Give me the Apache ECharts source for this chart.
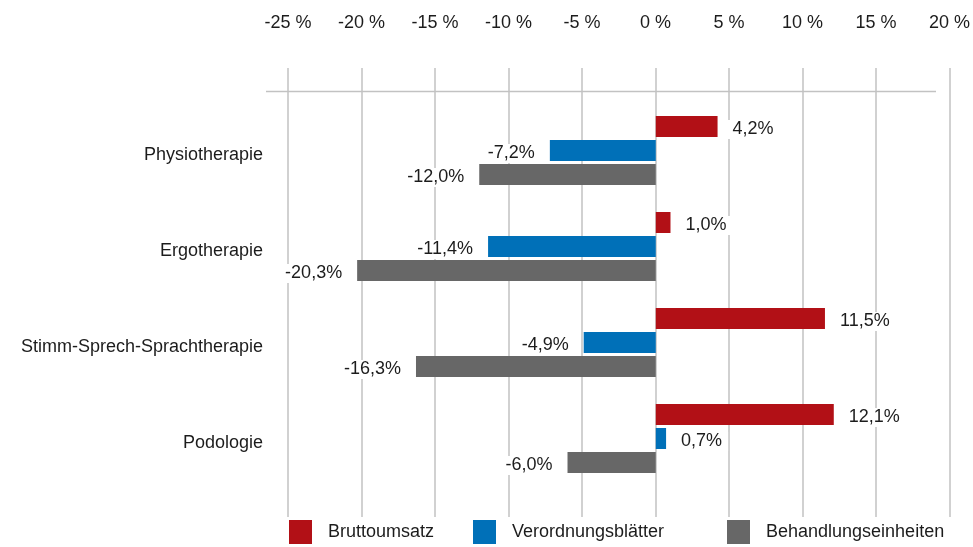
<!DOCTYPE html>
<html>
<head>
<meta charset="utf-8">
<script src="https://cdn.jsdelivr.net/npm/echarts@6/dist/echarts.min.js"></script>
<style>
html,body{margin:0;padding:0;background:#fff;}
#chart{width:973px;height:547px;}
</style>
</head>
<body>
<div id="chart"></div>
<script>
const categories = ['Physiotherapie', 'Ergotherapie', 'Stimm-Sprech-Sprachtherapie', 'Podologie'];
const seriesNames = ['Bruttoumsatz', 'Verordnungsblätter', 'Behandlungseinheiten'];
const bruttoumsatz = [4.2, 1.0, 11.5, 12.1];
const verordnungsblaetter = [-7.2, -11.4, -4.9, 0.7];
const behandlungseinheiten = [-12.0, -20.3, -16.3, -6.0];
const axisMin = -25;
const axisMax = 20;
const axisInterval = 5;

const colors = ['#B21016', '#0070B8', '#676767'];
const FONT = "'Liberation Sans', Arial, sans-serif";
const TEXT = '#1c1c1c';
const GRIDC = '#c2c2c2';

function fmt(v) { return v.toFixed(1).replace('.', ',') + '%'; }

function makeData(arr) {
  return arr.map(v => ({
    value: v,
    label: { position: v < 0 ? 'left' : 'right' }
  }));
}

const allValues = [bruttoumsatz, verordnungsblaetter, behandlungseinheiten];

const chart = echarts.init(document.getElementById('chart'), null, { renderer: 'canvas' });
const legendLefts = [289, 473, 727];

chart.setOption({
  animation: false,
  backgroundColor: '#fff',
  textStyle: { fontFamily: FONT },
  grid: [
    { left: 288, right: 23, top: 68, bottom: 30 },
    { left: 288, right: 23, top: 102.5, height: 384 }
  ],
  xAxis: [
    {
      gridIndex: 0, type: 'value', min: axisMin, max: axisMax, interval: axisInterval,
      position: 'top',
      axisLine: { show: false }, axisTick: { show: false },
      axisLabel: { formatter: '{value} %', margin: 36, fontSize: 18, color: TEXT, fontFamily: FONT },
      splitLine: { show: true, lineStyle: { color: GRIDC, width: 1.5 } }
    },
    {
      gridIndex: 1, type: 'value', min: axisMin, max: axisMax, interval: axisInterval,
      show: false, splitLine: { show: false }
    }
  ],
  yAxis: [
    { gridIndex: 0, type: 'value', show: false, splitLine: { show: false } },
    {
      gridIndex: 1, type: 'category', data: categories, inverse: true,
      axisLine: { show: false }, axisTick: { show: false },
      axisLabel: {
        margin: 25, color: TEXT,
        formatter: v => '{a|' + v + '}',
        rich: { a: { fontSize: 18, color: TEXT, fontFamily: FONT, padding: [10, 0, 0, 0] } }
      }
    }
  ],
  legend: seriesNames.map((n, i) => ({
    data: [n], left: legendLefts[i], top: 520, padding: 0,
    icon: 'rect', itemWidth: 23, itemHeight: 24, itemGap: 0,
    selectedMode: false,
    textStyle: { fontSize: 18, color: TEXT, fontFamily: FONT, padding: [0, 0, 0, 11] }
  })),
  graphic: [
    { type: 'line', shape: { x1: 266, y1: 91.5, x2: 936, y2: 91.5 }, style: { stroke: GRIDC, lineWidth: 1.5 }, z: 0 }
  ],
  series: seriesNames.map((n, i) => ({
    name: n, type: 'bar', xAxisIndex: 1, yAxisIndex: 1,
    data: makeData(allValues[i]),
    barWidth: 21, barGap: '14.3%',
    itemStyle: { color: colors[i] },
    label: {
      show: true, distance: 9, fontSize: 18, color: TEXT, fontFamily: FONT,
      backgroundColor: '#fff', padding: [1, 6, 0, 6], offset: [0, 3],
      formatter: p => fmt(p.value)
    }
  }))
});
</script>
</body>
</html>
